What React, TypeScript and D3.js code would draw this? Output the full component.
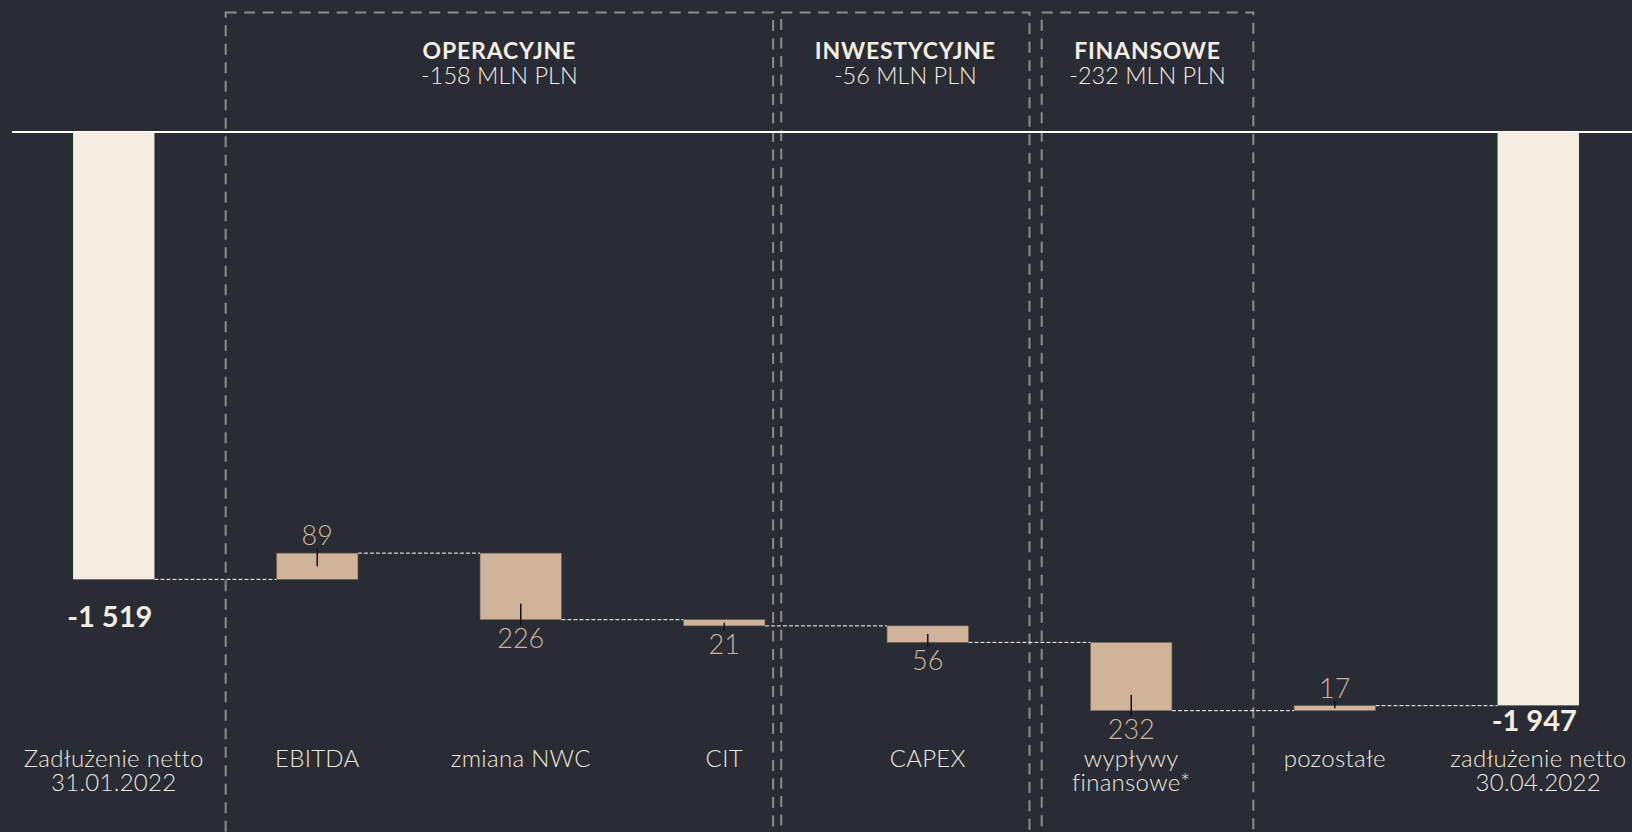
import React from 'react';
import * as d3 from 'd3';

// category labels (multi-line)
const categories = [
    ['Zadłużenie netto', '31.01.2022'],
    ['EBITDA'],
    ['zmiana NWC'],
    ['CIT'],
    ['CAPEX'],
    ['wypływy', 'finansowe*'],
    ['pozostałe'],
    ['zadłużenie netto', '30.04.2022'],
];
const startDebt = -1519;
const endDebt = -1947;
const deltas = [89, -226, -21, -56, -232, 17];
const valueLabels = ['-1 519', '89', '226', '21', '56', '232', '17', '-1 947'];

const groupTitles = ['OPERACYJNE', 'INWESTYCYJNE', 'FINANSOWE'];
const groupSubtitles = ['-158 MLN PLN', '-56 MLN PLN', '-232 MLN PLN'];

const W = 1632;
const H = 832;
const BG = '#292c34';
const CREAM = '#f5ede1';
const TAN = '#cfb49a';
const FONT = 'Lato, "Open Sans", sans-serif';

// box edges, in band steps from the first bar's left edge
const groupSpans = [
    [0.75, 3.44],
    [3.48, 4.7],
    [4.76, 5.8],
];

const App = () => {
    const keys = categories.map((c, i) => String(i));
    const x = d3.scaleBand().domain(keys).range([12, 1640]).paddingInner(0.6).paddingOuter(0.3);
    const y = d3.scaleLinear().domain([0, -2000]).range([132, 132 + 2000 * 0.2945]);
    const bw = x.bandwidth();
    const step = x.step();
    const x0 = x('0');

    // build waterfall steps
    const bars = [];
    bars.push({from: 0, to: startDebt, total: true});
    let run = startDebt;
    deltas.forEach((d) => {
        bars.push({from: run, to: run + d, total: false, delta: d});
        run += d;
    });
    bars.push({from: 0, to: endDebt, total: true});

    const connectors = [];
    for (let i = 0; i < bars.length - 1; i++) {
        connectors.push({x1: x(String(i)) + bw, x2: x(String(i + 1)), y: y(bars[i].to)});
    }

    return (
        <svg width={W} height={H} style={{position: 'absolute', left: 0, top: 0, display: 'block'}}>
            <rect width={W} height={H} fill={BG} />

            {/* group boxes */}
            {groupSpans.map(([a, b], i) => {
                const left = x0 + a * step;
                const right = x0 + b * step;
                return (
                    <g key={'g' + i}>
                        <rect
                            x={left}
                            y={12.5}
                            width={right - left}
                            height={H + 20}
                            fill="none"
                            stroke="#8c8c8c"
                            strokeWidth={2}
                            strokeDasharray="11,7.5"
                        />
                        <text
                            x={(left + right) / 2}
                            y={59}
                            textAnchor="middle"
                            fill={CREAM}
                            fontFamily={FONT}
                            fontWeight={700}
                            fontSize={23}
                            letterSpacing={0.8}
                        >
                            {groupTitles[i]}
                        </text>
                        <text
                            x={(left + right) / 2}
                            y={84}
                            textAnchor="middle"
                            fill={CREAM}
                            fontFamily={FONT}
                            fontWeight={300}
                            fontSize={23.5}
                        >
                            {groupSubtitles[i]}
                        </text>
                    </g>
                );
            })}

            {/* zero line */}
            <line x1={12} x2={W} y1={y(0)} y2={y(0)} stroke="#ffffff" strokeWidth={2} />

            {/* connectors */}
            {connectors.map((c, i) => (
                <line
                    key={'c' + i}
                    x1={c.x1}
                    x2={c.x2}
                    y1={c.y}
                    y2={c.y}
                    stroke="#ffffff"
                    strokeWidth={1}
                    strokeDasharray="4,2"
                />
            ))}

            {/* bars */}
            {bars.map((b, i) => {
                const top = Math.min(y(b.from), y(b.to));
                const bottom = Math.max(y(b.from), y(b.to));
                const cx = x(String(i)) + bw / 2;
                if (b.total) {
                    const labelY = i === 0 ? bottom + 48 : bottom + 26;
                    return (
                        <g key={'b' + i}>
                            <rect x={x(String(i))} y={top} width={bw} height={bottom - top} fill={CREAM} />
                            <text
                                x={cx - 4}
                                y={labelY}
                                textAnchor="middle"
                                fill={CREAM}
                                fontFamily={FONT}
                                fontWeight={700}
                                fontSize={29}
                            >
                                {valueLabels[i]}
                            </text>
                        </g>
                    );
                }
                const h = bottom - top;
                const inward = Math.min(h / 2, 16);
                const up = b.delta > 0;
                const tick = up ? [top - 5, top + inward] : [bottom - inward, bottom + 5];
                return (
                    <g key={'b' + i}>
                        <rect
                            x={x(String(i))}
                            y={top}
                            width={bw}
                            height={h}
                            fill={TAN}
                            stroke="#6e6256"
                            strokeWidth={0.6}
                        />
                        <line x1={cx} x2={cx} y1={tick[0]} y2={tick[1]} stroke="#111111" strokeWidth={1.5} />
                        <text
                            x={cx}
                            y={up ? top - 8 : bottom + 28}
                            textAnchor="middle"
                            fill={TAN}
                            fontFamily={FONT}
                            fontWeight={300}
                            fontSize={27}
                        >
                            {valueLabels[i]}
                        </text>
                    </g>
                );
            })}

            {/* category labels */}
            {categories.map((lines, i) => (
                <text
                    key={'t' + i}
                    x={x(String(i)) + bw / 2}
                    y={767}
                    textAnchor="middle"
                    fill="#efe8dc"
                    fontFamily={FONT}
                    fontWeight={300}
                    fontSize={24}
                    letterSpacing={0.3}
                >
                    {lines.map((l, j) => (
                        <tspan key={j} x={x(String(i)) + bw / 2} dy={j === 0 ? 0 : 23.5}>
                            {l}
                        </tspan>
                    ))}
                </text>
            ))}
        </svg>
    );
};

export default App;
